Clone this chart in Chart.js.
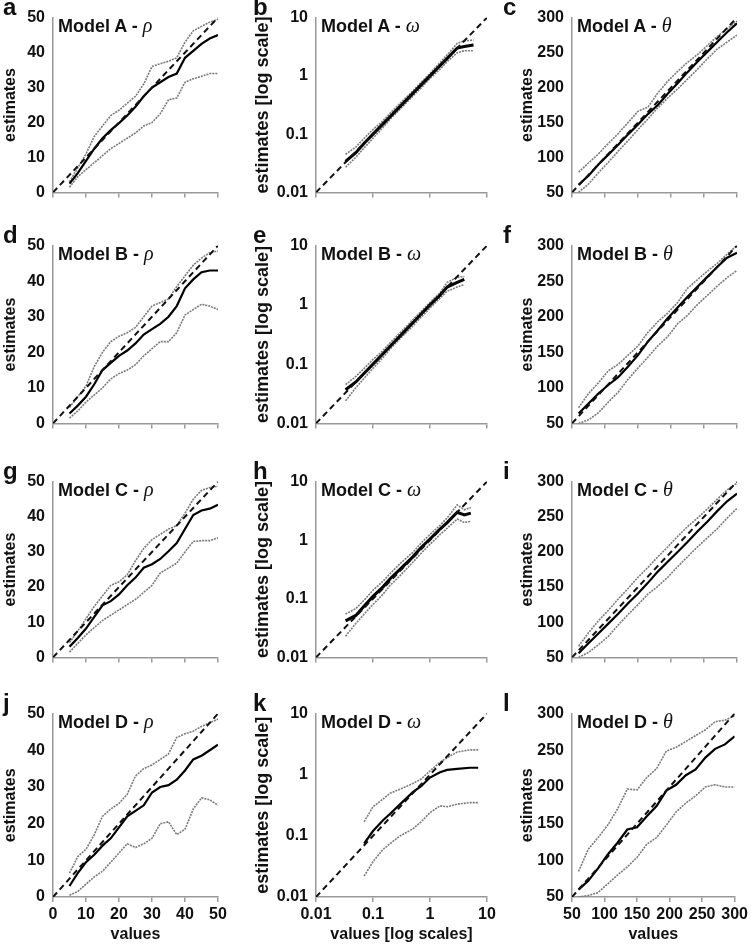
<!DOCTYPE html>
<html>
<head>
<meta charset="utf-8">
<script src="https://cdn.jsdelivr.net/npm/chart.js@4.4.1/dist/chart.umd.min.js"></script>
<style>
  body { margin: 0; background: #fff; width: 751px; height: 944px; position: relative; overflow: hidden;
         font-family: 'Liberation Sans', Arial, sans-serif; }
  canvas { position: absolute; }
  .letter { position: absolute; font-weight: bold; font-size: 24px; line-height: 24px; color: #111; }
  .ttl { position: absolute; font-weight: bold; font-size: 18px; line-height: 20px; white-space: nowrap; color: #111; }
  .ttl i { font-family: 'Liberation Serif', serif; font-weight: normal; font-size: 20px; }
</style>
</head>
<body>
<script>
// x positions (values) where the curves are read
const rhoX = [5, 7.5, 10, 12.5, 15, 17.5, 20, 22.5, 25, 27.5, 30, 32.5, 35, 37.5, 40, 42.5, 45, 47.5, 50];
const thX = [60, 75, 90, 105, 120, 135, 150, 165, 180, 195, 210, 225, 240, 255, 270, 285, 300];
const bX = [0.033, 0.05, 0.07, 0.1, 0.15, 0.2, 0.3, 0.5, 0.7, 1, 1.5, 2, 3, 4, 5.8];
const eX = [0.033, 0.05, 0.07, 0.1, 0.15, 0.2, 0.3, 0.5, 0.7, 1, 1.5, 2, 3, 4];
const hX = [0.033, 0.05, 0.07, 0.1, 0.15, 0.2, 0.3, 0.5, 0.7, 1, 1.5, 2, 3, 4, 5.2];
const kX = [0.07, 0.1, 0.15, 0.2, 0.3, 0.5, 0.7, 1, 1.5, 2, 3, 5, 7];

// identity lines
const rhoId = [0, 50];
const thId = [50, 300];
const omId = [0.01, 10];

// Model A
const aEst = [2.5, 5.5, 9, 12.5, 15.5, 17.8, 19.8, 22, 24.5, 27.5, 30, 31.5, 33, 34, 38.5, 40.5, 42.5, 44, 45];
const aUp  = [3, 7, 11, 16, 19, 22, 23.5, 25.5, 27.5, 31, 36, 36.8, 37.5, 38.5, 43, 46.2, 47.5, 48.7, 49.5];
const aLo  = [1.5, 4.5, 6.5, 8.5, 10.5, 12.5, 14, 15.5, 17, 19, 20, 22.5, 26.5, 27, 31.5, 32.5, 33.2, 34, 34];
const bEst = [0.034, 0.048, 0.07, 0.1, 0.15, 0.2, 0.3, 0.5, 0.7, 1.0, 1.5, 2.0, 3.0, 3.2, 3.4];
const bUp  = [0.045, 0.06, 0.085, 0.12, 0.17, 0.23, 0.34, 0.55, 0.78, 1.1, 1.7, 2.3, 3.6, 4.0, 4.1];
const bLo  = [0.027, 0.04, 0.058, 0.085, 0.13, 0.18, 0.27, 0.45, 0.62, 0.9, 1.3, 1.75, 2.5, 2.7, 2.7];
const cEst = [61, 74, 90, 104, 118, 133, 147, 162, 175, 191, 206, 222, 237, 251, 265, 279, 292];
const cUp  = [79, 92, 105, 120, 134, 150, 166, 172, 192, 209, 223, 236, 247, 260, 273, 284, 295];
const cLo  = [50, 62, 78, 93, 109, 124, 140, 155, 171, 185, 198, 212, 226, 241, 255, 265, 275];

// Model B
const dEst = [2.8, 5, 7.5, 11, 15, 17, 19, 20.5, 22.5, 25, 26.5, 28, 30, 33, 38, 40.5, 42.5, 43, 43];
const dUp  = [4.5, 7.5, 10.5, 16, 20, 23, 24.5, 25.5, 27, 30, 33, 34, 35, 38.5, 41.5, 44.5, 46.5, 48, 48.5];
const dLo  = [1.5, 3.5, 6, 8, 10, 12.5, 14, 15, 16.5, 19, 21, 23, 23, 25.5, 30.5, 32, 33.5, 33, 32];
const eEst = [0.037, 0.05, 0.07, 0.1, 0.15, 0.2, 0.3, 0.5, 0.7, 1, 1.45, 2, 2.4, 2.7];
const eUp  = [0.045, 0.062, 0.085, 0.12, 0.17, 0.23, 0.34, 0.56, 0.78, 1.1, 1.6, 2.4, 2.9, 3.0];
const eLo  = [0.024, 0.04, 0.058, 0.085, 0.13, 0.18, 0.27, 0.44, 0.62, 0.88, 1.3, 1.7, 2.0, 2.2];
const fEst = [64, 78, 92, 104, 115, 130, 146, 165, 181, 198, 213, 228, 242, 256, 270, 283, 290];
const fUp  = [72, 92, 107, 124, 133, 146, 159, 178, 193, 205, 220, 240, 252, 264, 275, 288, 300];
const fLo  = [50, 55, 65, 80, 94, 112, 128, 143, 159, 172, 190, 202, 217, 230, 243, 255, 265];

// Model C
const gEst = [3, 5.5, 8.2, 11.5, 14.8, 16, 17.9, 20.5, 22.7, 25.5, 26.5, 28, 30.2, 32.5, 36.5, 40.5, 41.8, 42.3, 43.4];
const gUp  = [4.2, 7.5, 11, 14.5, 17.5, 20.5, 21.5, 23.5, 27.5, 31, 33.5, 35, 36.5, 37.5, 41, 45, 47.5, 48.3, 48.7];
const gLo  = [1.5, 4, 6.4, 8.5, 10.5, 12, 13.5, 15, 16.5, 18.5, 20.5, 24, 25.4, 26.8, 30, 33, 33.2, 33.2, 34];
const hEst = [0.042, 0.052, 0.075, 0.11, 0.16, 0.22, 0.32, 0.52, 0.75, 1.05, 1.55, 2.0, 3.0, 2.7, 2.9];
const hUp  = [0.055, 0.068, 0.095, 0.14, 0.2, 0.27, 0.4, 0.62, 0.9, 1.25, 1.8, 2.4, 4.0, 3.3, 3.6];
const hLo  = [0.023, 0.038, 0.055, 0.08, 0.12, 0.17, 0.25, 0.42, 0.6, 0.85, 1.25, 1.6, 2.3, 2.0, 2.1];
const iEst = [56, 70, 84, 98, 112, 127, 141, 156, 172, 186, 200, 214, 229, 243, 258, 272, 283];
const iUp  = [66, 85, 102, 117, 133, 148, 164, 178, 193, 207, 222, 236, 248, 261, 275, 288, 298];
const iLo  = [50, 57, 68, 80, 96, 111, 125, 140, 151, 164, 179, 193, 207, 220, 233, 248, 262];

// Model D
const jEst = [3, 6.5, 9.5, 11.5, 14, 16, 19, 22, 23.5, 25, 28.5, 30, 30.5, 32, 34.5, 37.5, 38.5, 40, 41.5];
const jUp  = [6.5, 11, 13, 17, 22, 24, 25.5, 28, 33, 35, 36, 37.5, 39, 43.5, 44.5, 45.2, 46.5, 47.5, 48.5];
const jLo  = [0.5, 1.5, 3.5, 5.5, 7, 9.5, 12, 14.5, 13.5, 14.5, 16, 20, 20.5, 17, 18.5, 24, 27, 26.5, 25];
const kEst = [0.075, 0.12, 0.18, 0.23, 0.33, 0.52, 0.65, 0.9, 1.1, 1.2, 1.25, 1.3, 1.3];
const kUp  = [0.17, 0.3, 0.4, 0.5, 0.58, 0.72, 0.85, 1.15, 1.6, 1.9, 2.35, 2.55, 2.55];
const kLo  = [0.022, 0.038, 0.06, 0.075, 0.1, 0.13, 0.17, 0.24, 0.31, 0.3, 0.33, 0.35, 0.35];
const lEst = [60, 72, 89, 108, 124, 142, 145, 160, 174, 195, 203, 216, 224, 240, 252, 258, 269];
const lUp  = [85, 115, 131, 148, 170, 197, 196, 213, 225, 249, 254, 262, 270, 278, 289, 291, 297];
const lLo  = [50, 52, 56, 68, 80, 91, 104, 122, 131, 148, 166, 178, 188, 200, 203, 200, 200];

const panels = [
  { letter: 'a', model: 'A', sym: 'ρ', kind: 'rho', x: rhoX, est: aEst, up: aUp, lo: aLo },
  { letter: 'b', model: 'A', sym: 'ω', kind: 'om', x: bX, est: bEst, up: bUp, lo: bLo },
  { letter: 'c', model: 'A', sym: 'θ', kind: 'th', x: thX, est: cEst, up: cUp, lo: cLo },
  { letter: 'd', model: 'B', sym: 'ρ', kind: 'rho', x: rhoX, est: dEst, up: dUp, lo: dLo },
  { letter: 'e', model: 'B', sym: 'ω', kind: 'om', x: eX, est: eEst, up: eUp, lo: eLo },
  { letter: 'f', model: 'B', sym: 'θ', kind: 'th', x: thX, est: fEst, up: fUp, lo: fLo },
  { letter: 'g', model: 'C', sym: 'ρ', kind: 'rho', x: rhoX, est: gEst, up: gUp, lo: gLo },
  { letter: 'h', model: 'C', sym: 'ω', kind: 'om', x: hX, est: hEst, up: hUp, lo: hLo },
  { letter: 'i', model: 'C', sym: 'θ', kind: 'th', x: thX, est: iEst, up: iUp, lo: iLo },
  { letter: 'j', model: 'D', sym: 'ρ', kind: 'rho', x: rhoX, est: jEst, up: jUp, lo: jLo },
  { letter: 'k', model: 'D', sym: 'ω', kind: 'om', x: kX, est: kEst, up: kUp, lo: kLo },
  { letter: 'l', model: 'D', sym: 'θ', kind: 'th', x: thX, est: lEst, up: lUp, lo: lLo }
];

// layout of the grid
const colLeft = [0, 250, 500];
const colW = [230, 250, 251];
const axisW = [53, 66, 72];
const padR = [12, 13, 14];
const yTitlePad = [1, 2, 18];
const yTitleSize = [16, 18, 16];
const rowTop = [10, 238, 474, 706];
const rowBot = [198, 429, 663, 897];

Chart.defaults.font.family = "'Liberation Sans', Arial, sans-serif";
Chart.defaults.font.weight = 'bold';
Chart.defaults.color = '#111';

function toXY(xs, ys) {
  return xs.map((x, i) => ({ x: x, y: ys[i] }));
}

function axis(kind, horiz, c, xh, showLabels) {
  const s = {
    type: kind === 'om' ? 'logarithmic' : 'linear',
    min: kind === 'rho' ? 0 : kind === 'th' ? 50 : 0.01,
    max: kind === 'rho' ? 50 : kind === 'th' ? 300 : 10,
    border: { color: '#999', width: 1.5 },
    grid: { drawOnChartArea: false, drawTicks: horiz, tickLength: 5, color: '#999', lineWidth: 1.5 },
    ticks: {
      display: showLabels,
      font: { size: 16, weight: 'bold' },
      color: '#111',
      padding: horiz ? 3 : 8,
      maxRotation: 0,
      autoSkip: false,
      callback: v => String(v)
    },
    title: { display: showLabels, font: { size: horiz ? 16 : yTitleSize[c], weight: 'bold' }, color: '#111' },
    afterFit: s2 => { if (horiz) s2.height = xh; else s2.width = axisW[c]; }
  };
  if (kind === 'rho') s.ticks.stepSize = 10;
  if (kind === 'th') s.ticks.stepSize = 50;
  if (kind === 'om') s.afterBuildTicks = sc => { sc.ticks = [0.01, 0.1, 1, 10].map(v => ({ value: v })); };
  if (horiz) {
    s.title.text = kind === 'om' ? 'values [log scales]' : 'values';
    s.title.padding = { top: 0, bottom: 0 };
  } else {
    s.title.text = kind === 'om' ? 'estimates [log scale]' : 'estimates';
    s.title.padding = { top: yTitlePad[c], bottom: 0 };
  }
  return s;
}

panels.forEach((p, n) => {
  const r = Math.floor(n / 3), c = n % 3;
  const last = r === 3;
  const xh = last ? 944 - rowBot[r] : 12;
  const h = rowBot[r] - rowTop[r] + 10 + xh;

  const cv = document.createElement('canvas');
  cv.width = colW[c];
  cv.height = h;
  cv.style.left = colLeft[c] + 'px';
  cv.style.top = (rowTop[r] - 10) + 'px';
  document.body.appendChild(cv);

  const idv = p.kind === 'rho' ? rhoId : p.kind === 'th' ? thId : omId;
  // the omega bands of models A-C are drawn as a thick dark bundle
  const estW = (p.kind === 'om' && r < 3) ? 3 : 2.2;

  new Chart(cv.getContext('2d'), {
    type: 'scatter',
    data: {
      datasets: [
        { data: toXY(idv, idv), showLine: true, borderColor: '#111', borderWidth: 2, borderDash: [6, 4], pointRadius: 0 },
        { data: toXY(p.x, p.est), showLine: true, borderColor: '#000', borderWidth: estW, pointRadius: 0 },
        { data: toXY(p.x, p.up), showLine: true, borderColor: '#7a7a7a', borderWidth: 1.6, borderDash: [2, 1], pointRadius: 0 },
        { data: toXY(p.x, p.lo), showLine: true, borderColor: '#7a7a7a', borderWidth: 1.6, borderDash: [2, 1], pointRadius: 0 }
      ]
    },
    options: {
      responsive: false,
      animation: false,
      layout: { padding: { top: 10, right: padR[c], left: 0, bottom: 0 } },
      plugins: { legend: { display: false }, tooltip: { enabled: false } },
      scales: {
        x: axis(p.kind, true, c, xh, last),
        y: axis(p.kind, false, c, xh, true)
      }
    }
  });

  const lt = document.createElement('div');
  lt.className = 'letter';
  lt.textContent = p.letter;
  lt.style.left = (colLeft[c] + 3) + 'px';
  lt.style.top = (rowTop[r] - 15) + 'px';
  document.body.appendChild(lt);

  const tt = document.createElement('div');
  tt.className = 'ttl';
  tt.innerHTML = 'Model ' + p.model + ' - <i>' + p.sym + '</i>';
  tt.style.left = (colLeft[c] + axisW[c] + 5) + 'px';
  tt.style.top = (rowTop[r] + 5) + 'px';
  document.body.appendChild(tt);
});
</script>
</body>
</html>
